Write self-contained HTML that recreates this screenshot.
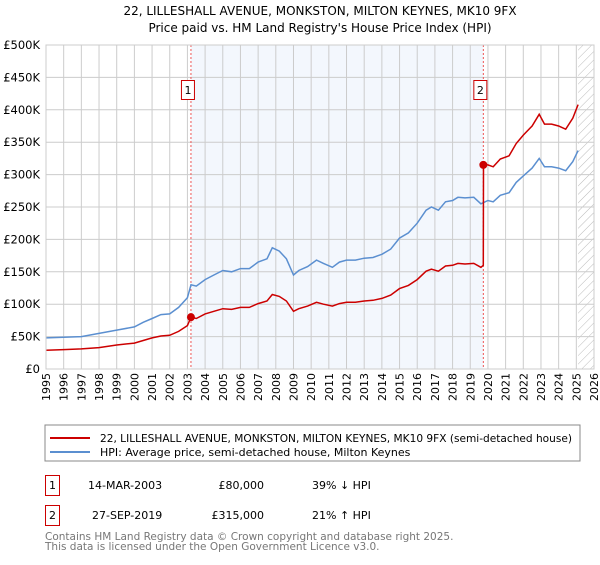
<!DOCTYPE html>
<html><head><meta charset="utf-8"><style>
body{margin:0;background:#fff;font-family:"Liberation Sans","DejaVu Sans",sans-serif;}
svg text{font-family:"DejaVu Sans","Liberation Sans",sans-serif;}
</style></head><body>
<svg id="chart" width="600" height="560">
<text x="320" y="15" font-size="12" text-anchor="middle">22, LILLESHALL AVENUE, MONKSTON, MILTON KEYNES, MK10 9FX</text>
<text x="320" y="32" font-size="12" text-anchor="middle">Price paid vs. HM Land Registry's House Price Index (HPI)</text>
<g id="plot"></g>
<rect x="45" y="425" width="535" height="36" fill="#fff" stroke="#888"/>
<line x1="50" y1="438" x2="90" y2="438" stroke="#cc0000" stroke-width="2"/>
<text x="100" y="442" font-size="11" textLength="472" lengthAdjust="spacingAndGlyphs">22, LILLESHALL AVENUE, MONKSTON, MILTON KEYNES, MK10 9FX (semi-detached house)</text>
<line x1="50" y1="452" x2="90" y2="452" stroke="#5b8fd0" stroke-width="2"/>
<text x="100" y="456" font-size="11">HPI: Average price, semi-detached house, Milton Keynes</text>
<g>
<rect x="45.5" y="475.5" width="14" height="20" fill="#fff" stroke="#cc0000"/>
<text x="52.5" y="489" font-size="11" text-anchor="middle">1</text>
<text x="88" y="489" font-size="11">14-MAR-2003</text>
<text x="264" y="489" font-size="11" text-anchor="end">£80,000</text>
<text x="312" y="489" font-size="11">39% ↓ HPI</text>
</g>
<g>
<rect x="45.5" y="505.5" width="14" height="20" fill="#fff" stroke="#cc0000"/>
<text x="52.5" y="519" font-size="11" text-anchor="middle">2</text>
<text x="92" y="519" font-size="11">27-SEP-2019</text>
<text x="264" y="519" font-size="11" text-anchor="end">£315,000</text>
<text x="312" y="519" font-size="11">21% ↑ HPI</text>
</g>
<text x="45" y="540" font-size="10.5" fill="#777">Contains HM Land Registry data © Crown copyright and database right 2025.</text>
<text x="45" y="550" font-size="10.5" fill="#777">This data is licensed under the Open Government Licence v3.0.</text>
</svg>
<script>
const years=[1995,1996,1997,1998,1999,2000,2001,2002,2003,2004,2005,2006,2007,2008,2009,2010,2011,2012,2013,2014,2015,2016,2017,2018,2019,2020,2021,2022,2023,2024,2025,2026];
const yTicks=[0,50,100,150,200,250,300,350,400,450,500];
const yTickLabels=["£0","£50K","£100K","£150K","£200K","£250K","£300K","£350K","£400K","£450K","£500K"];
const hpiT=[1995,1996,1997,1998,1999,2000,2000.5,2001,2001.5,2002,2002.5,2003,2003.2,2003.5,2004,2004.5,2005,2005.5,2006,2006.5,2007,2007.5,2007.8,2008.2,2008.6,2009,2009.3,2009.8,2010.3,2010.7,2011.2,2011.6,2012,2012.5,2013,2013.5,2014,2014.5,2015,2015.5,2016,2016.5,2016.8,2017.2,2017.6,2018,2018.3,2018.7,2019.2,2019.6,2020,2020.3,2020.7,2021.2,2021.6,2022,2022.5,2022.9,2023.2,2023.6,2024,2024.4,2024.8,2025.1];
const hpiV=[48,49,50,55,60,65,72,78,84,85,95,110,130,128,138,145,152,150,155,155,165,170,187,182,170,145,152,158,168,163,157,165,168,168,171,172,177,185,202,210,225,245,250,245,258,260,265,264,265,255,260,258,268,272,288,298,310,325,312,312,310,306,320,337];
const redT=[1995,1996,1997,1998,1999,2000,2000.5,2001,2001.5,2002,2002.5,2003,2003.2,2003.5,2004,2004.5,2005,2005.5,2006,2006.5,2007,2007.5,2007.8,2008.2,2008.6,2009,2009.3,2009.8,2010.3,2010.7,2011.2,2011.6,2012,2012.5,2013,2013.5,2014,2014.5,2015,2015.5,2016,2016.5,2016.8,2017.2,2017.6,2018,2018.3,2018.7,2019.2,2019.6,2019.74,2019.75,2020,2020.3,2020.7,2021.2,2021.6,2022,2022.5,2022.9,2023.2,2023.6,2024,2024.4,2024.8,2025.1];
const redV=[29,30,31,33,37,40,44,48,51,52,58,67,80,78,85,89,93,92,95,95,101,105,115,112,105,89,93,97,103,100,97,101,103,103,105,106,109,114,124,129,138,151,154,151,159,160,163,162,163,157,160,315,315,312,324,329,348,361,375,393,378,378,375,370,387,408];
const saleT=[2003.2,2019.74];
const saleV=[80,315];
const saleLabels=["1","2"];
const L=46,R=594,T=45,B=369;
const x=t=>L+(t-1995)/(2026-1995)*(R-L);
const y=v=>B-v/500*(B-T);
const NS="http://www.w3.org/2000/svg";
const g=document.getElementById('plot');
function mk(tag,attrs){const e=document.createElementNS(NS,tag);for(const k in attrs)e.setAttribute(k,attrs[k]);g.appendChild(e);return e;}
let sh=mk('rect',{x:x(saleT[0]),y:T,width:x(saleT[1])-x(saleT[0]),height:B-T,fill:'#eef3fc',opacity:0.7});


const defs=document.createElementNS(NS,'defs');defs.innerHTML='<pattern id="hatch" width="6" height="6" patternUnits="userSpaceOnUse" patternTransform="rotate(45)"><line x1="0" y1="0" x2="0" y2="6" stroke="#bbb" stroke-width="1"/></pattern>';g.appendChild(defs);
let ht=mk('rect',{x:x(2025.1),y:T,width:R-x(2025.1),height:B-T,fill:'url(#hatch)'});


years.forEach(yr=>{
 let l=mk('line',{x1:x(yr),x2:x(yr),y1:T,y2:B,stroke:'#ccc','stroke-width':1});
 
 
 let tx=mk('text',{x:0,y:0,'font-size':11,'text-anchor':'end',transform:`translate(${x(yr)+4},373) rotate(-90)`});
 tx.textContent=yr;
 
 
});
yTicks.forEach((v,i)=>{
 let l=mk('line',{x1:L,x2:R,y1:y(v),y2:y(v),stroke:'#ccc','stroke-width':1});
 
 
 let tx=mk('text',{x:40,y:y(v)+4,'font-size':11.5,'text-anchor':'end'});
 tx.textContent=yTickLabels[i];
 
 
});
saleT.forEach((t,i)=>{
 let l=mk('line',{x1:x(t),x2:x(t),y1:T,y2:B,stroke:'#e55','stroke-width':1,'stroke-dasharray':'2,2'});
 
 
});
function path(ts,vs){return ts.map((t,i)=>(i?'L':'M')+x(t).toFixed(1)+','+y(vs[i]).toFixed(1)).join('');}
let hp=mk('path',{d:path(hpiT,hpiV),fill:'none',stroke:'#5b8fd0','stroke-width':1.5});


let rp=mk('path',{d:path(redT,redV),fill:'none',stroke:'#cc0000','stroke-width':1.5});


saleT.forEach((t,i)=>{
 let c=mk('circle',{cx:x(t),cy:y(saleV[i]),r:4,fill:'#cc0000'});
 
 
 let b=mk('rect',{x:x(t)-9.5,y:80.5,width:13,height:19,fill:'#fff',stroke:'#cc0000'});
 
 
 let tx=mk('text',{x:x(t)-3,y:94,'font-size':11,'text-anchor':'middle'});
 tx.textContent=saleLabels[i];
 
 
});
let ax=mk('rect',{x:L,y:T,width:R-L,height:B-T,fill:'none',stroke:'#ccc'});


</script>
</body></html>
